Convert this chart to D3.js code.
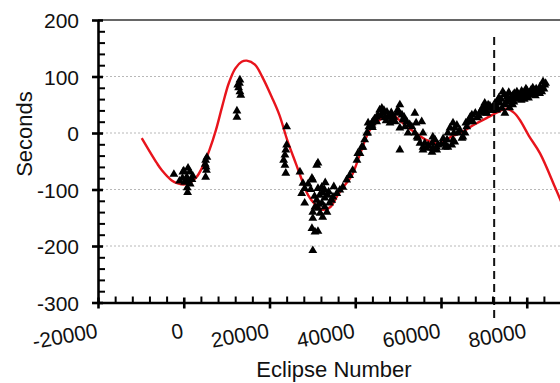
<!DOCTYPE html>
<html>
<head>
<meta charset="utf-8">
<script src="https://cdn.jsdelivr.net/npm/d3@7"></script>
<style>
  body { margin: 0; background: #fff; }
  svg { display: block; font-family: Arial, "Liberation Sans", sans-serif; }
</style>
</head>
<body>
<div id="chart"></div>
<script>
const width = 560;
const height = 383;

// data
const xTicks = [-20000, 0, 20000, 40000, 60000, 80000];
const yTicks = [-300, -200, -100, 0, 100, 200];
const gridValues = [-200, -100, 0, 100];
const markerEclipse = 72400;

// fitted curve (eclipse number, seconds)
const fitN =   [-9800, -6300, -5100, -2800, -1400, 200, 1500, 3000, 4500, 6000, 7500, 9000, 10500, 12000, 13500, 14700, 16600, 18400, 20500, 22300, 24200, 26200, 27800, 29000, 30600, 32500, 34200, 35900, 37100, 39200, 41000, 43400, 46000, 48600, 51000, 53500, 56500, 59500, 62500, 64500, 68000, 71000, 73500, 75300, 77000, 78400, 80500, 83100, 86600, 88500];
const fitSec = [-9, -53, -66, -84, -89, -91, -88, -78, -58, -30, 5, 48, 88, 114, 126, 128, 121, 98, 64, 32, -14, -55, -88, -110, -126, -136, -131, -110, -97, -75, -40, 5, 25, 32, 18, 3, -12, -19, -6, 0, 16, 28, 38, 43, 36, 23, -5, -36, -96, -130];

// observed timings (eclipse number, seconds)
const obsN = [
  -2300, 0, 1000, 1400, 700, 200, 1000, 1900, 2100, 900, 800, -300, -1000, 1500, 5400, 5100, 5000, 5200, 5300, 5100, -200,
  13100, 12600, 12800, 13100, 13300, 12400, 12400, 13000,
  24000, 24000, 23800, 23600, 23300, 23600, 23800, 27100, 31300, 31000, 29900, 27800, 28200, 30100, 27500, 28200, 31300, 32200, 32400, 33600, 31700, 31000, 30600, 30100, 31300, 32200, 32900, 33400, 32400, 30100, 29900, 30600, 31300, 30100, 34500, 34800, 35700, 36400, 37100, 38000, 38700, 39400, 32900, 34000, 31800, 32800, 29000, 33000, 35000, 30500, 31500, 33800, 29600,
  40400, 41100, 41800, 42200, 42900, 43200, 43900, 45000, 40600, 41500, 42700, 43000, 43900, 44100, 45000, 45700, 46200, 46400, 46900, 47400, 47600, 48100, 48800, 49700, 49900, 50400, 50900, 51100, 50400, 51600, 52300, 53200, 53900, 53900, 54600, 55500, 55100, 55800, 50400, 48000, 44500, 46000, 52000, 49000,
  44000, 45300, 46700, 47200, 48400, 49300, 50100, 51400, 52700, 54200,
  55800, 56200, 56700, 55800, 58100, 58600, 57900, 58100, 59000, 59300, 61400, 61600, 62100, 62800, 63200, 62500, 61600, 63200, 64900, 65600, 66000, 66300, 67200, 67400, 68400, 69100, 69800, 70200, 70900, 70700, 71900, 72600, 73000, 57900, 60900, 59000, 54400, 63700, 65100, 62800, 60000, 57000, 64000, 67000, 68000, 71000,
  60500, 61000, 63000, 64400, 65800, 66800, 68800, 69500, 70400, 71400,
  74400, 75400, 76100, 76800, 77700, 78400, 79100, 80000, 80700, 81400, 82400, 83100, 83800, 84200, 83500, 74900, 73700, 73000, 70700, 70200, 74000, 75000, 76000, 77000, 78000, 79000, 80000, 81000, 82000, 83000, 84000, 73500, 75800, 77300, 79600, 81800, 72000, 76500, 78700, 80400, 82800,
  74800, 75600, 76400, 77100, 77900, 78800, 79400, 80200, 81000, 81600, 82200, 83200, 84400, 72800, 73300, 74200, 75200, 76700, 78000, 79800
];
const obsSec = [
  -73, -67, -62, -69, -78, -87, -84, -82, -76, -105, -97, -80, -85, -90, -43, -48, -55, -60, -66, -78, -69,
  94, 85, 80, 73, 67, 39, 28, 88,
  11, -21, -30, -39, -48, -57, -71, -69, -53, -57, -80, -89, -98, -83, -107, -124, -98, -96, -105, -110, -110, -119, -131, -140, -133, -124, -131, -140, -149, -151, -169, -175, -174, -208, -119, -113, -107, -101, -96, -83, -75, -66, -115, -124, -142, -100, -90, -88, -95, -112, -126, -104, -100,
  -48, -36, -25, -12, 0, 11, 18, 20, -36, -25, 0, 18, 14, 20, 28, 41, 44, 35, 27, 37, 28, 18, 23, 35, 41, 50, 32, 23, 9, 11, 0, 11, 35, 0, -9, 20, -18, -25, -30, 30, 25, 30, 20, 28,
  10, 32, 40, 22, 36, 20, 38, 28, 15, 18,
  0, -18, -27, -30, -7, -12, -18, -27, -30, -21, -12, 0, 9, 18, 9, -21, -25, -16, -9, 0, 11, 20, 32, 20, 27, 37, 46, 53, 44, 35, 44, 53, 41, -34, -18, -25, -7, 14, -7, -12, -20, -22, 0, 25, 35, 50,
  -10, -25, 0, 5, 18, 28, 30, 42, 40, 48,
  73, 64, 59, 67, 73, 64, 71, 76, 71, 80, 73, 82, 91, 85, 73, 35, 53, 46, 46, 35, 60, 50, 45, 55, 60, 62, 65, 68, 66, 70, 78, 62, 72, 63, 68, 75, 40, 52, 58, 62, 70,
  68, 58, 64, 70, 66, 74, 60, 70, 76, 70, 78, 76, 88, 48, 58, 44, 56, 50, 68, 78
];

const svg = d3.select("#chart")
  .append("svg")
  .attr("width", width)
  .attr("height", height);

const x = d3.scaleLinear().domain([-20000, 100000]).range([98, 612.5]);
const y = d3.scaleLinear().domain([-300, 200]).range([302.5, 20]);

const fmt = d => String(d);

// grid
svg.append("g")
  .selectAll("line")
  .data(gridValues)
  .join("line")
  .attr("x1", x(-20000))
  .attr("x2", width)
  .attr("y1", d => y(d))
  .attr("y2", d => y(d))
  .attr("stroke", "#b8b8b8")
  .attr("stroke-width", 1)
  .attr("stroke-dasharray", "2,2");

// top frame line
svg.append("line")
  .attr("x1", x(-20000))
  .attr("x2", width)
  .attr("y1", y(200))
  .attr("y2", y(200))
  .attr("stroke", "#333")
  .attr("stroke-width", 1.6);

// fitted curve
const line = d3.line()
  .x((d, i) => x(fitN[i]))
  .y(d => y(d))
  .curve(d3.curveCatmullRom.alpha(0.5));

svg.append("path")
  .datum(fitSec)
  .attr("d", line)
  .attr("fill", "none")
  .attr("stroke", "#e8141c")
  .attr("stroke-width", 2.4);

// observations
const tri = d3.symbol().type(d3.symbolTriangle).size(34);
svg.append("g")
  .selectAll("path")
  .data(obsN.map((n, i) => [n, obsSec[i]]))
  .join("path")
  .attr("transform", d => `translate(${x(d[0])},${y(d[1])})`)
  .attr("d", tri)
  .attr("fill", "#000");

// dashed marker
svg.append("line")
  .attr("x1", x(markerEclipse))
  .attr("x2", x(markerEclipse))
  .attr("y1", y(170))
  .attr("y2", y(-330))
  .attr("stroke", "#111")
  .attr("stroke-width", 2)
  .attr("stroke-dasharray", "8,5");

// minor ticks
const xMinor = d3.range(-20000, 100001, 4000).filter(v => v % 20000 !== 0);
const yMinor = d3.range(-300, 201, 20).filter(v => v % 100 !== 0);

svg.append("g")
  .attr("transform", `translate(0,${y(-300)})`)
  .call(d3.axisBottom(x).tickValues(xMinor).tickSize(-6).tickFormat(""))
  .call(g => g.select(".domain").remove())
  .call(g => g.selectAll("line").attr("stroke", "#000").attr("stroke-width", 2));

svg.append("g")
  .attr("transform", `translate(${x(-20000)},0)`)
  .call(d3.axisLeft(y).tickValues(yMinor).tickSize(-7).tickFormat(""))
  .call(g => g.select(".domain").remove())
  .call(g => g.selectAll("line").attr("stroke", "#000").attr("stroke-width", 2));

// x axis
svg.append("g")
  .attr("transform", `translate(0,${y(-300)})`)
  .call(d3.axisBottom(x).tickValues(xTicks).tickSize(6).tickSizeOuter(0).tickFormat(fmt))
  .call(g => g.select(".domain").attr("stroke", "#000").attr("stroke-width", 2.6))
  .call(g => g.selectAll(".tick line").attr("y1", -5).attr("y2", 6).attr("stroke", "#000").attr("stroke-width", 2.6))
  .call(g => g.selectAll(".tick text")
    .attr("y", 0).attr("dy", 0)
    .attr("text-anchor", "end")
    .attr("transform", "translate(0,35) rotate(-10)")
    .attr("fill", "#111")
    .style("font-size", "21px"));

// y axis
svg.append("g")
  .attr("transform", `translate(${x(-20000)},0)`)
  .call(d3.axisLeft(y).tickValues(yTicks).tickSize(6).tickSizeOuter(0).tickFormat(fmt))
  .call(g => g.select(".domain").attr("stroke", "#000").attr("stroke-width", 2.6))
  .call(g => g.selectAll(".tick line").attr("x1", -6).attr("x2", 5).attr("stroke", "#000").attr("stroke-width", 2.6))
  .call(g => g.selectAll(".tick text")
    .attr("x", -19)
    .attr("dy", "0.36em")
    .attr("fill", "#111")
    .style("font-size", "21px"));

// axis titles
svg.append("text")
  .attr("x", 334)
  .attr("y", 377)
  .attr("text-anchor", "middle")
  .attr("fill", "#111")
  .style("font-size", "22px")
  .text("Eclipse Number");

svg.append("text")
  .attr("transform", "translate(32,134) rotate(-90)")
  .attr("text-anchor", "middle")
  .attr("fill", "#111")
  .style("font-size", "22px")
  .text("Seconds");
</script>
</body>
</html>
